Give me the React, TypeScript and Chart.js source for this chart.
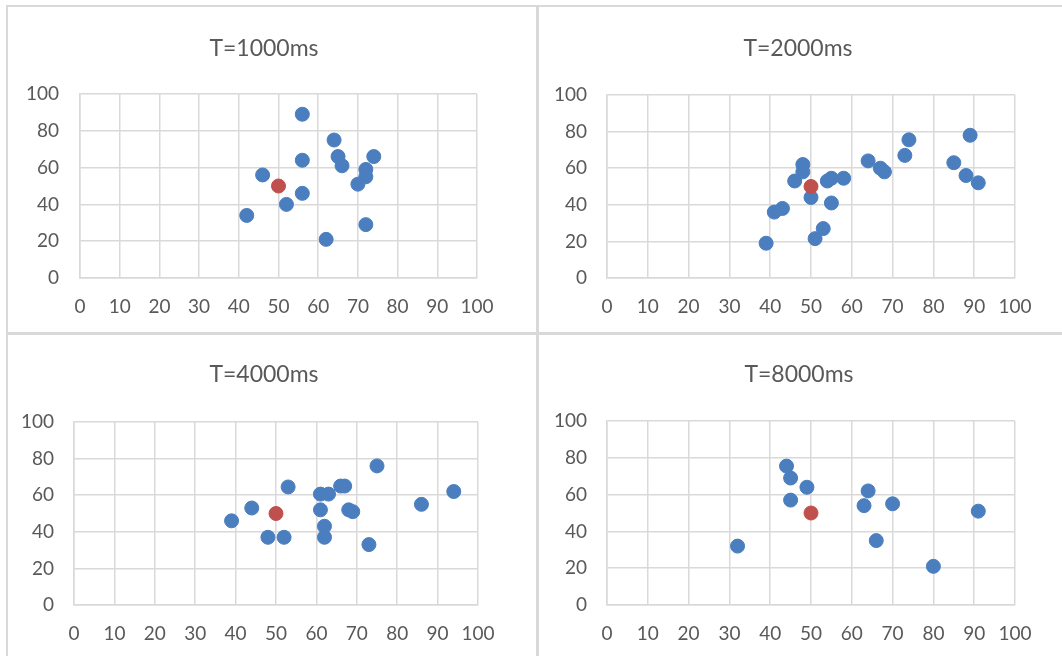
import React, { useEffect, useRef } from "react";
import { Chart, registerables } from "chart.js";

Chart.register(...registerables);

// ---- data ----
const titles = ["T=1000ms", "T=2000ms", "T=4000ms", "T=8000ms"];
const axisMin = 0;
const axisMax = 100;
const xStep = 10;
const yStep = 20;

const refX = [50];
const refY = [50];

const t1000X = [56, 64, 65, 66, 74, 56, 46, 72, 72, 70, 56, 52, 42, 62, 72];
const t1000Y = [89, 75, 66, 61, 66, 64, 56, 59, 55, 51, 46, 40, 34, 21, 29];

const t2000X = [39, 41, 43, 46, 48, 48, 50, 51, 53, 54, 55, 55, 58, 64, 67, 68, 73, 74, 85, 88, 89, 91];
const t2000Y = [19, 36, 38, 53, 62, 58, 44, 21.5, 27, 53, 54.5, 41, 54.5, 64, 60, 58, 67, 75.5, 63, 56, 78, 52];

const t4000X = [39, 44, 48, 52, 53, 61, 63, 61, 62, 62, 66, 67, 68, 69, 75, 73, 86, 94];
const t4000Y = [46, 53, 37, 37, 64.5, 60.6, 60.6, 52, 43, 37, 65, 65, 52, 51, 76, 33, 55, 62];

const t8000X = [32, 44, 45, 45, 49, 63, 64, 66, 70, 80, 91];
const t8000Y = [32, 75.5, 69, 57, 64, 54, 62, 35, 55, 21, 51];

const seriesX = [t1000X, t2000X, t4000X, t8000X];
const seriesY = [t1000Y, t2000Y, t4000Y, t8000Y];

// ---- styles / layout ----
const BLUE = "#4A7EBF";
const RED = "#C0504D";
const GRID = "#D9D9D9";
const TEXT = "#595959";
const FONT = "Lato, 'Open Sans', sans-serif";

type PanelLayout = {
  left: number; top: number; width: number; height: number;
  padR: number; padT: number; yW: number; xH: number; yPad: number;
  titleX: number; titleY: number;
};

const layouts: PanelLayout[] = [
  { left: 8, top: 8, width: 528, height: 324, padR: 59, padT: 86, yW: 72, xH: 54, yPad: 21, titleX: 264, titleY: 47 },
  { left: 539, top: 8, width: 523, height: 324, padR: 47, padT: 87, yW: 68, xH: 54, yPad: 20, titleX: 798, titleY: 47 },
  { left: 8, top: 335, width: 528, height: 321, padR: 58, padT: 87, yW: 66, xH: 51, yPad: 20, titleX: 264, titleY: 373 },
  { left: 539, top: 335, width: 523, height: 321, padR: 47, padT: 86, yW: 68, xH: 51, yPad: 20, titleX: 799, titleY: 373 },
];

function Panel({ idx }: { idx: number }) {
  const ref = useRef<HTMLCanvasElement | null>(null);
  const L = layouts[idx];
  useEffect(() => {
    if (!ref.current) return;
    const pts = seriesX[idx].map((x, i) => ({ x, y: seriesY[idx][i] }));
    const refPts = refX.map((x, i) => ({ x, y: refY[i] }));
    const chart = new Chart(ref.current, {
      type: "scatter",
      data: {
        datasets: [
          { data: refPts, backgroundColor: RED, borderColor: RED, borderWidth: 1, pointRadius: 7, pointHoverRadius: 7 },
          { data: pts, backgroundColor: BLUE, borderColor: BLUE, borderWidth: 1, pointRadius: 7, pointHoverRadius: 7 },
        ],
      },
      options: {
        responsive: false,
        animation: false,
        devicePixelRatio: 1,
        layout: { padding: { left: 0, right: L.padR, top: L.padT, bottom: 0 } },
        plugins: {
          legend: { display: false },
          tooltip: { enabled: false },
          title: { display: false },
        },
        scales: {
          x: {
            type: "linear",
            min: axisMin,
            max: axisMax,
            ticks: { stepSize: xStep, color: TEXT, font: { family: FONT, size: 19 }, padding: 17, maxRotation: 0 },
            grid: { color: GRID, lineWidth: 1.5, drawTicks: false },
            border: { color: GRID, width: 1.5 },
            afterFit: (s: any) => { s.height = L.xH; },
          },
          y: {
            type: "linear",
            min: axisMin,
            max: axisMax,
            ticks: { stepSize: yStep, color: TEXT, font: { family: FONT, size: 19 }, padding: L.yPad },
            grid: { color: GRID, lineWidth: 1.5, drawTicks: false },
            border: { color: GRID, width: 1.5 },
            afterFit: (s: any) => { s.width = L.yW; },
          },
        },
      },
    });
    return () => chart.destroy();
  }, [idx]);
  return (
    <>
      <canvas
        ref={ref}
        width={L.width}
        height={L.height}
        style={{ position: "absolute", left: L.left, top: L.top, width: L.width, height: L.height }}
      />
      <div
        style={{
          position: "absolute",
          left: L.titleX - 100,
          width: 200,
          top: L.titleY - 14,
          height: 28,
          lineHeight: "28px",
          textAlign: "center",
          fontFamily: FONT,
          fontSize: 23,
          color: TEXT,
          whiteSpace: "nowrap",
        }}
      >
        {titles[idx]}
      </div>
    </>
  );
}

export default function App() {
  const line = (s: React.CSSProperties) => <div style={{ position: "absolute", background: GRID, ...s }} />;
  return (
    <div style={{ position: "fixed", left: 0, top: 0, width: 1062, height: 656, background: "#fff", overflow: "hidden" }}>
      {line({ left: 6, top: 5, width: 1056, height: 2 })}
      {line({ left: 6, top: 5, width: 2, height: 651 })}
      {line({ left: 536, top: 5, width: 3, height: 651 })}
      {line({ left: 6, top: 332, width: 1056, height: 3 })}
      {[0, 1, 2, 3].map((i) => (
        <Panel key={i} idx={i} />
      ))}
    </div>
  );
}
